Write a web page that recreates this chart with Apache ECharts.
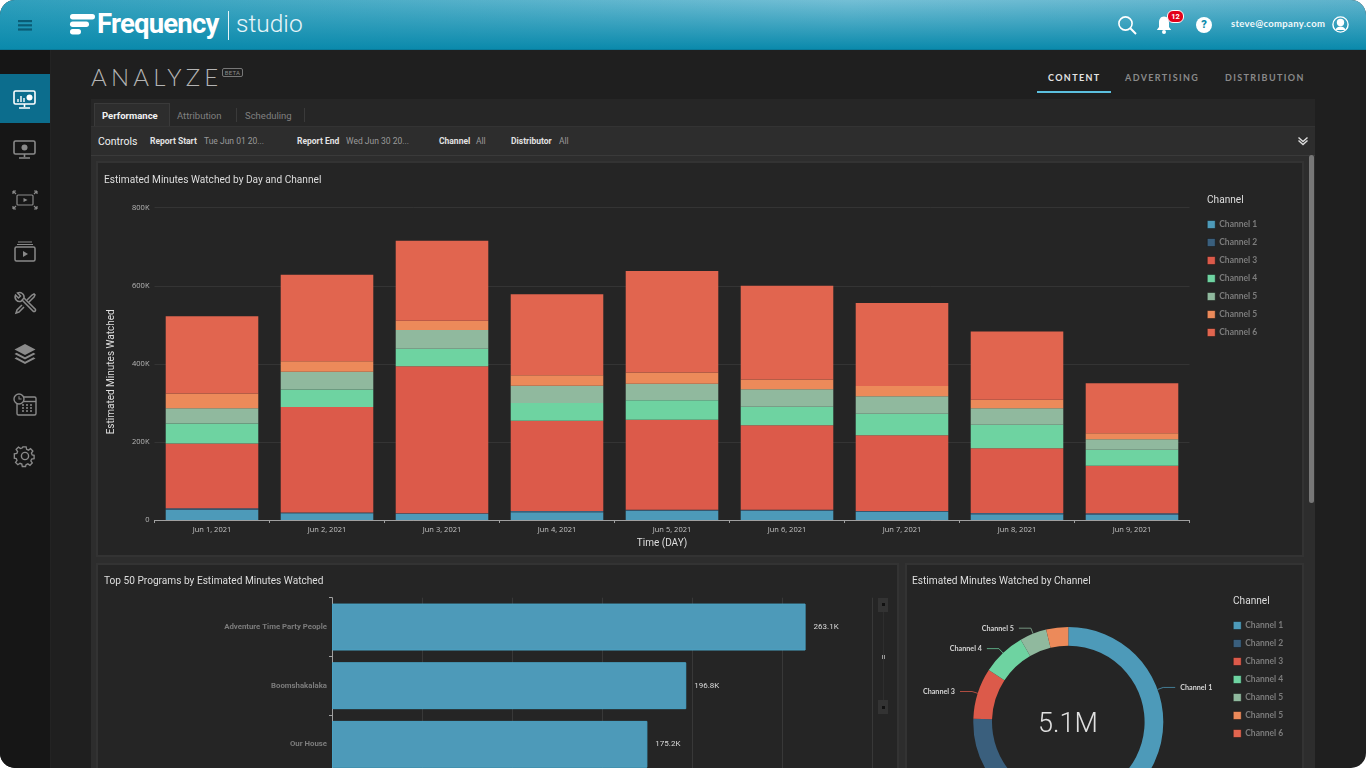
<!DOCTYPE html>
<html>
<head>
<meta charset="utf-8">
<title>Frequency studio - Analyze</title>
<script src="https://cdn.jsdelivr.net/npm/echarts@6/dist/echarts.min.js"></script>
<style>
  html,body{margin:0;padding:0;width:1366px;height:768px;overflow:hidden;background:#fff;font-family:Roboto,sans-serif}
  #app{position:absolute;left:0;top:0;width:1366px;height:768px;border-radius:15px;overflow:hidden;background:#1f1f1f}
  #app div,#app span{position:absolute;white-space:nowrap}
  #app svg{position:absolute;overflow:visible}
  #chart{position:absolute;left:0;top:0;width:1366px;height:768px}
  #head{left:0;top:0;width:1366px;height:49px;border-bottom:1px solid #0a7a99;
    background:linear-gradient(to bottom,rgba(11,138,172,0) 0%,#0b8aac 100%),linear-gradient(to right,#2f9fbc,#74bfd5 62%,#5fb3cc)}
  #side{left:0;top:50px;width:50px;height:718px;background:#161616;border-right:1px solid #232323}
  #active{left:0;top:74px;width:50px;height:49px;background:#0c6d8d}
  .ctl{font-size:8.5px;font-weight:700;color:#e2e2e2;top:136px}
  .val{font-size:8.5px;color:#9a9a9a;top:136px}
  .nav{font-family:Lato,sans-serif;font-size:9px;font-weight:700;letter-spacing:1.38px;top:72px;color:#8a8a8a}
  .tab{font-size:9.5px;top:110px;color:#808080}
  .sep{width:1px;height:14px;top:108px;background:#3a3a3a}
  .card{background:#252525;border:2px solid #333;box-sizing:border-box}
</style>
</head>
<body>
<div id="app">
  <div id="head"></div>
  <svg style="left:18px;top:20px" width="14" height="11" fill="#0a5c75"><rect width="14" height="2.2"/><rect y="4.2" width="14" height="2.2"/><rect y="8.4" width="14" height="2.2"/></svg>
  <svg style="left:70px;top:14px" width="25" height="20" fill="#fff"><rect width="25" height="5.5" rx="2.7"/><rect y="7.5" width="19" height="5.5" rx="2.7"/><rect y="15" width="11" height="5.5" rx="2.7"/></svg>
  <div style="left:97px;top:8px;font-size:27.5px;line-height:32px;font-weight:700;letter-spacing:-.8px;color:#fff">Frequency</div>
  <div style="left:228px;top:11px;width:1px;height:29px;background:#e6f4f8"></div>
  <div style="left:236px;top:8px;font-size:24.5px;line-height:32px;font-weight:300;color:#e8f5f9">studio</div>

  <svg style="left:1118px;top:16px" width="20" height="20" fill="none" stroke="#fff" stroke-width="1.6"><circle cx="7.5" cy="7.5" r="6.6"/><path d="M12.3 12.3L18 18" stroke-width="2"/></svg>
  <svg style="left:1156px;top:16px" width="16" height="19" fill="#fff"><path d="M8 0.5c3.6 0 5 3 5 6v4.5l2.2 3H0.8l2.2-3V6.5c0-3 1.4-6 5-6z"/><circle cx="8" cy="16" r="2"/></svg>
  <div style="left:1167px;top:10px;height:11px;border-radius:6px;background:#e2001a;border:1px solid #fff;box-sizing:content-box;color:#fff;font-size:7.5px;font-weight:700;line-height:11px;text-align:center;width:15px">12</div>
  <div style="left:1196px;top:17px;width:16px;height:16px;border-radius:8px;background:#fff;color:#0f8cac;font-size:11px;font-weight:900;line-height:16px;text-align:center">?</div>
  <div style="left:1231px;top:18px;font-family:Lato,sans-serif;font-size:9.5px;font-weight:700;letter-spacing:.32px;color:#f2f9fb">steve@company.com</div>
  <svg style="left:1332px;top:16px" width="17" height="17" fill="none" stroke="#fff" stroke-width="1.4"><circle cx="8.5" cy="8.5" r="7.6"/><circle cx="8.5" cy="6.5" r="3" fill="#fff"/><path d="M3.4 14c1-3 3-3.6 5.1-3.6s4.1.6 5.1 3.6" fill="#fff" stroke="none"/></svg>

  <div id="side"></div>
  <div id="active"></div>
  <!-- sidebar icons -->
  <svg style="left:13px;top:90px" width="24" height="20" fill="none" stroke="#fff" stroke-width="1.6"><rect x="1" y="1" width="21" height="13" rx="1.5"/><path d="M11.5 14v3M6 18h11"/><path d="M5 12V9M8 12V6M11 12V8" stroke-width="1.4"/><circle cx="16.5" cy="7.5" r="3" fill="#fff" stroke="none"/></svg>
  <svg style="left:13px;top:140px" width="24" height="20" fill="none" stroke="#8a8a8a" stroke-width="1.6"><rect x="1" y="1" width="21" height="13" rx="1.5"/><path d="M11.5 14v3M6 18h11"/><circle cx="11.5" cy="7.5" r="3" fill="#8a8a8a" stroke="none"/></svg>
  <svg style="left:12px;top:190px" width="26" height="20" fill="none" stroke="#8a8a8a" stroke-width="1.2"><rect x="5" y="5" width="16" height="10" rx="1"/><path d="M11.5 8l4 2-4 2z" fill="#8a8a8a" stroke="none"/><path d="M1 1l3 3M25 1l-3 3M1 19l3-3M25 19l-3-3M1 1h3M1 1v3M25 1h-3M25 1v3M1 19h3M1 19v-3M25 19h-3M25 19v-3"/></svg>
  <svg style="left:14px;top:241px" width="22" height="21" fill="none" stroke="#8a8a8a" stroke-width="1.5"><rect x="1" y="6" width="20" height="14" rx="1.5"/><path d="M3 3.5h16M4 1h14" stroke-width="1.1"/><path d="M9 10l5 3-5 3z" fill="#8a8a8a" stroke="none"/></svg>
  <svg style="left:14px;top:292px" width="22" height="22" fill="none" stroke="#8a8a8a" stroke-width="1.5"><path d="M8 8l11.5 11.5a1.6 1.6 0 0 0 2-2L10 6"/><path d="M10 6a4.6 4.6 0 0 0-6.5-5l3 3-2 2-3-3a4.6 4.6 0 0 0 5.5 6.300z" fill="#161616"/><path d="M13 8L18 3l2-1 1 1-1 2-5 5M8 13l-5 5-1 3 3-1 5-5"/></svg>
  <svg style="left:14px;top:344px" width="22" height="20" fill="#8a8a8a"><path d="M11 0l10.5 5.5L11 11 .5 5.5z"/><path d="M2.5 8.8L.5 10 11 15.5 21.5 10l-2-1.2L11 13.2z"/><path d="M2.5 13.3l-2 1.2L11 20l10.5-5.5-2-1.2L11 17.7z"/></svg>
  <svg style="left:13px;top:393px" width="24" height="23" fill="none" stroke="#8a8a8a" stroke-width="1.4"><rect x="4" y="4" width="19" height="18" rx="1.5"/><path d="M4 8.5h19" /><path d="M9 12h2M13 12h2M17 12h2M9 15h2M13 15h2M17 15h2M9 18h2M13 18h2M17 18h2" stroke-width="1.6"/><circle cx="6" cy="6" r="5" fill="#161616"/><path d="M6 3.2V6h2.6" stroke-width="1.1"/></svg>
  <svg style="left:15px;top:446px" width="20" height="20" fill="none" stroke="#8a8a8a" stroke-width="1.4"><circle cx="10" cy="10" r="3.6"/><path d="M8.3 1h3.4l.5 2.6 1.9.8 2.2-1.5 2.4 2.4-1.5 2.2.8 1.9 2 .4v3.4l-2.6.5-.8 1.9 1.5 2.2-2.4 2.4-2.2-1.5-1.9.8-.5 2h-3.4l-.5-2.6-1.9-.8-2.2 1.5-2.4-2.4 1.5-2.2-.8-1.9-2-.4V8.3l2.6-.5.8-1.9-1.5-2.2 2.4-2.4 2.2 1.5 1.9-.8z" transform="translate(-.1 -.1) scale(.96)"/></svg>

  <div style="left:91px;top:62px;font-family:Lato,sans-serif;font-size:24px;line-height:30px;font-weight:300;letter-spacing:4.2px;color:#b4b4b4">ANALYZE</div>
  <div style="left:222px;top:68px;width:19px;height:7px;border:1px solid #777;border-radius:2px;color:#8a8a8a;font-size:6px;line-height:7px;text-align:center;letter-spacing:.3px">BETA</div>

  <div class="nav" style="left:1048px;color:#e4e4e4">CONTENT</div>
  <div class="nav" style="left:1125px">ADVERTISING</div>
  <div class="nav" style="left:1225px">DISTRIBUTION</div>
  <div style="left:1037px;top:91px;width:74px;height:1.5px;background:#5cc0df"></div>

  <!-- panel: tab strip, controls row, scroll area -->
  <div style="left:91px;top:99px;width:1224px;height:27px;background:#262626"></div>
  <div style="left:91px;top:126px;width:1224px;height:642px;background:#2d2d2d;border-top:1px solid #333;box-sizing:border-box"></div>
  <div style="left:91px;top:155px;width:1224px;height:1px;background:#3a3a3a"></div>
  <div style="left:94px;top:103px;width:76px;height:23px;background:#2d2d2d;border:1px solid #3a3a3a;border-bottom:0;box-sizing:border-box"></div>
  <div class="tab" style="left:102px;color:#f2f2f2;font-weight:700">Performance</div>
  <div class="tab" style="left:177px">Attribution</div>
  <div class="sep" style="left:236px"></div>
  <div class="tab" style="left:245px">Scheduling</div>
  <div class="sep" style="left:304px"></div>
  <div style="left:98px;top:135px;font-size:10.5px;color:#f0f0f0">Controls</div>
  <div class="ctl" style="left:150px">Report Start</div><div class="val" style="left:204px">Tue Jun 01 20...</div>
  <div class="ctl" style="left:297px">Report End</div><div class="val" style="left:346px">Wed Jun 30 20...</div>
  <div class="ctl" style="left:439px">Channel</div><div class="val" style="left:476px">All</div>
  <div class="ctl" style="left:511px">Distributor</div><div class="val" style="left:559px">All</div>
  <svg style="left:1298px;top:137px" width="10" height="9" fill="none" stroke="#dcdcdc" stroke-width="1.4"><path d="M.5 .5L5 4.5 9.5 .5M.5 3.5L5 7.5 9.5 3.5"/></svg>

  <div style="left:1309px;top:155px;width:5px;height:348px;border-radius:3px;background:#777"></div>
  <div class="card" style="left:96px;top:161px;width:1208px;height:396px"></div>
  <div class="card" style="left:96px;top:563px;width:803px;height:230px"></div>
  <div class="card" style="left:905px;top:563px;width:399px;height:230px"></div>

  <!-- scroll control of the programs list -->
  <div style="left:878px;top:598px;width:10px;height:14px;background:#333"></div>
  <div style="left:882px;top:603px;width:3px;height:3px;background:#111"></div>
  <div style="left:883px;top:612px;width:1px;height:88px;background:#2e2e2e"></div>
  <div style="left:882px;top:655px;width:3px;height:4px;border-left:1px solid #999;border-right:1px solid #999;box-sizing:border-box"></div>
  <div style="left:878px;top:700px;width:10px;height:14px;background:#333"></div>
  <div style="left:882px;top:706px;width:3px;height:3px;background:#111"></div>

  <div id="chart"></div>
</div>
<script>
// 日期和节目
var days = ['Jun 1, 2021','Jun 2, 2021','Jun 3, 2021','Jun 4, 2021','Jun 5, 2021','Jun 6, 2021','Jun 7, 2021','Jun 8, 2021','Jun 9, 2021'];
var programs = ['Adventure Time Party People','Boomshakalaka','Our House'];
var programMinutes = [263100,196800,175200];

// 每天每个频道的分钟数
var channel1 = [26000,17000,16000,20000,24000,24000,21000,15000,13000];
var channel2 = [4000,2000,1000,3000,2000,2000,2000,3000,4000];
var channel3 = [166000,270500,376700,231000,231000,217000,194000,166000,122000];
var channel4 = [51000,44500,45300,46000,50000,47000,55000,60000,41000];
var channel5 = [39000,46000,47800,44000,42000,45000,45000,42000,27000];
var channel5b = [38000,26500,23900,27000,29000,25000,26000,22000,15000];
var channel6 = [198000,222000,204900,207000,260000,240000,213000,175000,128000];

// 环形图
var channelTotals = [1983000,1870000,442000,380000,234000,191000,0];
var totalLabel = '5.1M';

// 图例会合并同名项，第二个 Channel 5 多一个空格
var channelNames = ['Channel 1','Channel 2','Channel 3','Channel 4','Channel 5','Channel 5 ','Channel 6'];
var channelColors = ['#4d9ab9','#3a5f7d','#dc5a4a','#6ed3a1','#90b99e','#ec8a5a','#e1654f'];
var channelValues = [channel1,channel2,channel3,channel4,channel5,channel5b,channel6];

var myChart = echarts.init(document.getElementById('chart'), null, {renderer:'canvas'});

var titleFont = 'Roboto, sans-serif';
function cardTitle(text, left, top){
    return {text:text, left:left, top:top, padding:0, textStyle:{color:'#dedede', fontSize:10.15, fontWeight:'normal', fontFamily:titleFont}};
}
function legendOf(left, top){
    return {
        orient:'vertical', left:left, top:top, padding:0,
        data:channelNames, icon:'rect', itemWidth:8, itemHeight:8, itemGap:9,
        itemStyle:{borderColor:'#151515', borderWidth:0.5},
        selectedMode:false,
        textStyle:{color:'#7c7c7c', fontSize:8.5, fontWeight:'bold', fontFamily:'Lato, sans-serif', padding:[0,0,0,-1]}
    };
}

var barSeries = channelNames.map(function(name, i){
    return {
        name:name, type:'bar', stack:'minutes', xAxisIndex:0, yAxisIndex:0, barWidth:'80.5%',
        itemStyle:{color:channelColors[i]},
        data:channelValues[i]
    };
});

var option = {
    animation:false,
    backgroundColor:'transparent',
    title:[
        cardTitle('Estimated Minutes Watched by Day and Channel', 104, 175),
        cardTitle('Top 50 Programs by Estimated Minutes Watched', 104, 576),
        cardTitle('Estimated Minutes Watched by Channel', 912, 576),
        cardTitle('Channel', 1207, 195),
        cardTitle('Channel', 1233, 596),
        {text:totalLabel, left:1068, top:712, textAlign:'center', padding:0,
            textStyle:{color:'#e0e0e0', fontSize:27, fontWeight:300, fontFamily:titleFont}}
    ],
    legend:[legendOf(1207,220), legendOf(1233,621)],
    grid:[
        {left:154.5, top:207.7, width:1035, height:312.3, containLabel:false},
        // 这个网格超出画布底部，要关掉 outerBounds，否则会被压缩
        {left:332, top:597.7, width:540, height:176, containLabel:false, outerBoundsMode:'none'}
    ],
    xAxis:[{
        type:'category', gridIndex:0, data:days,
        name:'Time (DAY)', nameLocation:'middle', nameGap:18,
        nameTextStyle:{color:'#dedede', fontSize:10, fontFamily:titleFont, padding:[0,20,0,0]},
        axisLine:{lineStyle:{color:'#a0a0a0'}},
        axisTick:{show:true, length:3, lineStyle:{color:'#a0a0a0'}},
        axisLabel:{color:'#c4c4c4', fontSize:7.5, margin:6, fontFamily:'Open Sans, sans-serif'}
    },{
        type:'value', gridIndex:1, min:0, max:300000, interval:50000,
        axisLine:{show:false}, axisTick:{show:false}, axisLabel:{show:false},
        splitLine:{lineStyle:{color:'#383838'}}
    }],
    yAxis:[{
        type:'value', gridIndex:0, min:0, max:800000, interval:200000,
        name:'Estimated Minutes Watched', nameLocation:'middle', nameGap:38,
        nameTextStyle:{color:'#dedede', fontSize:10, fontFamily:titleFont, padding:[0,16,0,0]},
        axisLine:{show:false}, axisTick:{show:false},
        axisLabel:{color:'#b8b8b8', fontSize:7.5, margin:5, fontFamily:'Open Sans, sans-serif', formatter:function(v){
            return v===0 ? '0' : (v/1000)+'K';
        }},
        splitLine:{lineStyle:{color:'#343434'}}
    },{
        type:'category', gridIndex:1, inverse:true, data:programs,
        axisLine:{lineStyle:{color:'#a0a0a0'}},
        axisTick:{show:true, length:3, lineStyle:{color:'#a0a0a0'}},
        axisLabel:{color:'#7c7c7c', fontSize:7.8, fontWeight:'bold', margin:5, fontFamily:titleFont}
    }],
    series:barSeries.concat([{
        name:'Programs', type:'bar', xAxisIndex:1, yAxisIndex:1, barWidth:'80%',
        itemStyle:{color:channelColors[0], borderColor:'#4aa3c4', borderWidth:1},
        label:{show:true, position:'right', distance:8, color:'#dadada', fontSize:8, fontFamily:titleFont,
            formatter:function(p){ return (p.value/1000).toFixed(1)+'K'; }},
        data:programMinutes
    },{
        name:'By Channel', type:'pie', center:[1068.3,722], radius:[76.3,95], startAngle:90,
        // 只有这几块有标签，Channel 2 的标签在画面外，留着会把左边的标签往上挤
        data:channelNames.map(function(name, i){
            var hasLabel = i !== 1 && i < 5;
            return {
                name:name, value:channelTotals[i],
                itemStyle:{color:channelColors[i]},
                label:{show:hasLabel}, labelLine:{show:hasLabel}
            };
        }),
        label:{color:'#d4d4d4', fontSize:7.2, fontWeight:'bold', fontFamily:'Lato, sans-serif'},
        labelLine:{length:6, length2:12, lineStyle:{width:1, opacity:0.75}}
    }])
};
myChart.setOption(option);
</script>
</body>
</html>
